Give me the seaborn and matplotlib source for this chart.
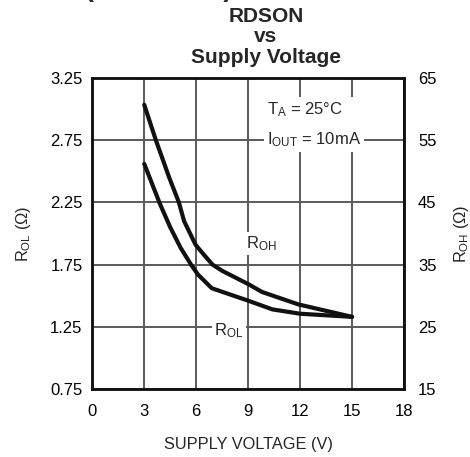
import matplotlib
matplotlib.use('Agg')
import matplotlib.pyplot as plt
import seaborn as sns
import pandas as pd

# ---- data ----
supply_v_rol = [3.0, 3.9, 4.5, 5.1, 5.7, 6.1, 6.9, 9.0, 10.4, 12.0, 15.0]
rol_ohm = [2.56, 2.24, 2.05, 1.885, 1.75, 1.67, 1.56, 1.46, 1.39, 1.355, 1.33]
supply_v_roh = [3.0, 3.67, 4.44, 5.0, 5.3, 5.96, 6.44, 6.94, 7.5, 9.05, 9.8, 11.9, 15.0]
roh_ohm = [60.7, 55.0, 49.0, 45.0, 42.0, 38.2, 36.6, 35.0, 34.0, 31.8, 30.6, 28.6, 26.6]
x_ticks = [0, 3, 6, 9, 12, 15, 18]
rol_ticks = [0.75, 1.25, 1.75, 2.25, 2.75, 3.25]
rol_tick_labels = ["0.75", "1.25", "1.75", "2.25", "2.75", "3.25"]
roh_ticks = [15, 25, 35, 45, 55, 65]

sns.set_style("white")
plt.rcParams['font.family'] = ['Liberation Sans', 'DejaVu Sans']
plt.rcParams['mathtext.default'] = 'regular'

df_rol = pd.DataFrame({"V": supply_v_rol, "R": rol_ohm})
df_roh = pd.DataFrame({"V": supply_v_roh, "R": roh_ohm})

fig = plt.figure(figsize=(4.70, 4.57), dpi=100)
ax = fig.add_axes([0.1964, 0.1488, 0.6632, 0.6805])
ax2 = ax.twinx()

sns.lineplot(data=df_rol, x="V", y="R", ax=ax, color="#111111", linewidth=3.0, sort=False)
sns.lineplot(data=df_roh, x="V", y="R", ax=ax2, color="#111111", linewidth=3.0, sort=False)

ax.set_xlim(0, 18)
ax.set_ylim(0.75, 3.25)
ax2.set_ylim(15, 65)
ax.set_xticks(x_ticks)
ax.set_yticks(rol_ticks)
ax.set_yticklabels(rol_tick_labels)
ax2.set_yticks(roh_ticks)

ax.grid(True, color="#5a5a5a", linewidth=1.4)
ax.tick_params(axis='both', length=0, labelsize=12, colors='black')
ax.tick_params(axis='x', pad=11)
ax.tick_params(axis='y', pad=7)
ax2.tick_params(axis='y', length=0, labelsize=12, pad=10, colors='black')

for a in (ax, ax2):
    for s in a.spines.values():
        s.set_color('#111111')
        s.set_linewidth(1.8)

ax.set_xlabel("SUPPLY VOLTAGE (V)", fontsize=11.8, labelpad=13)
ax.set_ylabel(r"R$_{OL}$ ($\Omega$)", fontsize=11.8, labelpad=12)
ax2.set_ylabel(r"R$_{OH}$ ($\Omega$)", fontsize=11.8, labelpad=11)

ax.text(10.1, 2.875, "T$_A$ = 25°C\nI$_{OUT}$ = 10mA", fontsize=12, ha='left', va='center',
        linespacing=1.85, zorder=5,
        bbox=dict(facecolor='white', edgecolor='none', pad=2.0))
ax.text(9.74, 1.92, "R$_{OH}$", fontsize=12, ha='center', va='center', zorder=5,
        bbox=dict(facecolor='white', edgecolor='none', pad=1.5))
ax.text(7.9, 1.22, "R$_{OL}$", fontsize=12, ha='center', va='center', zorder=5,
        bbox=dict(facecolor='white', edgecolor='none', pad=1.5))

fig.text(0.566, 0.985, "RDSON\nvs\nSupply Voltage", fontsize=15, fontweight='bold',
         ha='center', va='top', linespacing=1.1)
fig.text(0.181, 1.0055, "(Continued)", fontsize=19, fontweight='bold',
         ha='left', va='baseline')

fig.savefig("out.png", dpi=100)
